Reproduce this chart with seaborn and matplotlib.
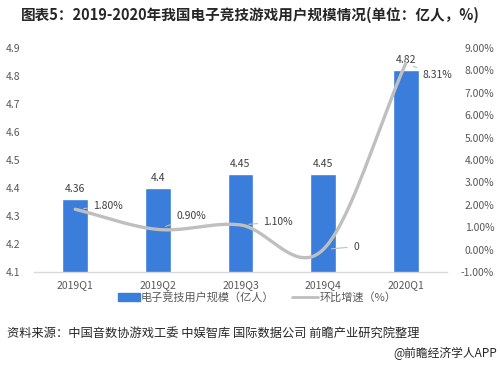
import numpy as np
import pandas as pd
import matplotlib
matplotlib.use("Agg")
import matplotlib.pyplot as plt
import seaborn as sns

quarters = ["2019Q1", "2019Q2", "2019Q3", "2019Q4", "2020Q1"]
users = [4.36, 4.40, 4.45, 4.45, 4.82]
growth = [1.80, 0.90, 1.10, 0.0, 8.31]
growth_labels = ["1.80%", "0.90%", "1.10%", "0", "8.31%"]
left_ticks = [4.1, 4.2, 4.3, 4.4, 4.5, 4.6, 4.7, 4.8, 4.9]
right_ticks = [-1, 0, 1, 2, 3, 4, 5, 6, 7, 8, 9]

title = "图表5：2019-2020年我国电子竞技游戏用户规模情况(单位：亿人，%)"
legend_bar = "电子竞技用户规模（亿人）"
legend_line = "环比增速（%）"
source = "资料来源：中国音数协游戏工委 中娱智库 国际数据公司 前瞻产业研究院整理"
credit = "@前瞻经济学人APP"

sns.set_theme(style="white")
plt.rcParams['font.family'] = ['Noto Sans CJK SC', 'DejaVu Sans']

BLUE = "#3A7DDA"
GRAY_LINE = "#BFBFBF"
TXT = "#595959"

fig = plt.figure(figsize=(5, 3.65), dpi=100)
ax = fig.add_axes([0.068, 0.2548, 0.826, 0.6137])

df = pd.DataFrame({"q": quarters, "v": users})
sns.barplot(data=df, x="q", y="v", color=BLUE, width=0.31, ax=ax, saturation=1)
ax.set_ylim(4.1, 4.9)
ax.set_xlim(-0.5, 4.5)
ax.set_yticks(left_ticks)
ax.set_yticklabels([f"{t:.1f}" for t in left_ticks])
ax.set_xlabel("")
ax.set_ylabel("")
for s in ["top", "right", "left"]:
    ax.spines[s].set_visible(False)
ax.spines["bottom"].set_color("#D9D9D9")
ax.spines["bottom"].set_linewidth(1)
ax.tick_params(axis="y", length=0, pad=10, labelsize=7.5, labelcolor=TXT)
ax.tick_params(axis="x", length=0, pad=6, labelsize=7.5, labelcolor=TXT)

for i, v in enumerate(users):
    ax.annotate(f"{v:g}", (i, v), xytext=(0, 5), textcoords="offset pixels",
                ha="center", va="bottom", fontsize=7.5, color="#404040")

ax2 = ax.twinx()
ax2.set_ylim(-1, 9)
ax2.set_yticks(right_ticks)
ax2.set_yticklabels([f"{t:.2f}%" for t in right_ticks])
for s in ax2.spines.values():
    s.set_visible(False)
ax2.tick_params(axis="y", length=0, pad=34, labelsize=7.5, labelcolor=TXT)
for lab in ax2.get_yticklabels():
    lab.set_horizontalalignment("right")
ax2.grid(False)

# smoothed (Catmull-Rom) rendering of the line, like Excel's smoothed line
xs = np.arange(len(growth), dtype=float)
ys = np.array(growth, dtype=float)
px = np.concatenate([[2 * xs[0] - xs[1]], xs, [2 * xs[-1] - xs[-2]]])
py = np.concatenate([[2 * ys[0] - ys[1]], ys, [2 * ys[-1] - ys[-2]]])
cx, cy = [], []
t = np.linspace(0, 1, 40)
for k in range(1, len(px) - 2):
    m0x = (px[k + 1] - px[k - 1]) / 2
    m1x = (px[k + 2] - px[k]) / 2
    m0y = (py[k + 1] - py[k - 1]) / 2
    m1y = (py[k + 2] - py[k]) / 2
    h00 = 2 * t**3 - 3 * t**2 + 1
    h10 = t**3 - 2 * t**2 + t
    h01 = -2 * t**3 + 3 * t**2
    h11 = t**3 - t**2
    cx.extend(h00 * px[k] + h10 * m0x + h01 * px[k + 1] + h11 * m1x)
    cy.extend(h00 * py[k] + h10 * m0y + h01 * py[k + 1] + h11 * m1y)
ax2.plot(cx, cy, color=GRAY_LINE, lw=2.4, solid_capstyle="round", zorder=3)

offsets = [(18, 3), (19, 13), (23, 3), (30, 3), (17, -12)]
for i, (g, lab) in enumerate(zip(growth, growth_labels)):
    ax2.annotate(lab, (i, g), xytext=offsets[i], textcoords="offset pixels",
                 ha="left", va="center", fontsize=7.5, color="#404040",
                 arrowprops=dict(arrowstyle="-", color="#BFBFBF", lw=0.8,
                                 shrinkA=2, shrinkB=6))

fig.text(0.5, 0.958, title, ha="center", va="center", fontsize=10.5,
         fontweight="bold", color="#262626")

# legend
lx = 118 / 500
ly = 1 - 297 / 365
fig.patches.append(plt.Rectangle((lx, ly - 0.012), 22 / 500, 0.024,
                                 transform=fig.transFigure, color=BLUE))
fig.text(141 / 500, ly, legend_bar, ha="left", va="center", fontsize=8, color=TXT)
fig.lines.append(plt.Line2D([292 / 500, 318 / 500], [ly, ly], transform=fig.transFigure,
                            color=GRAY_LINE, lw=2))
fig.text(320 / 500, ly, legend_line, ha="left", va="center", fontsize=8, color=TXT)

fig.text(7 / 500, 1 - 333 / 365, source, ha="left", va="center", fontsize=8.8, color="#262626")
fig.text(497 / 500, 1 - 353 / 365, credit, ha="right", va="center", fontsize=8.5, color="#262626")

fig.savefig("out.png", dpi=100)
